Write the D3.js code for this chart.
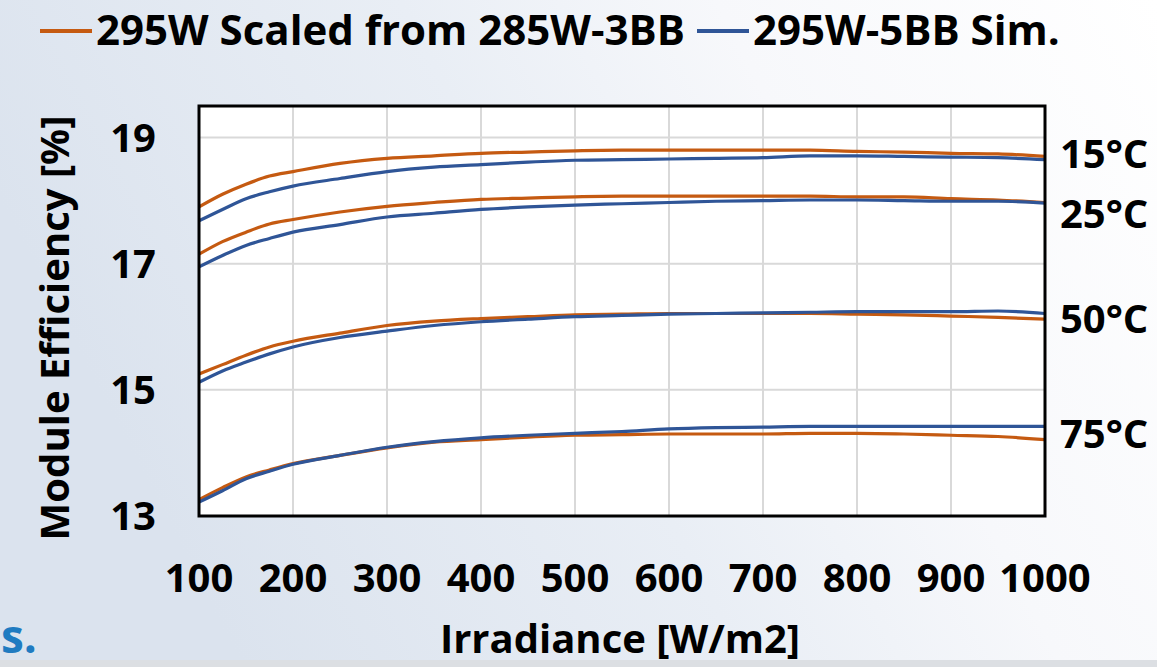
<!DOCTYPE html>
<html>
<head>
<meta charset="utf-8">
<script src="https://cdn.jsdelivr.net/npm/d3@7"></script>
<style>
    body { margin: 0; overflow: hidden; }
    text { font-family: "Open Sans", sans-serif; font-weight: bold; }
</style>
</head>
<body>
<div id="chart"></div>
<script>
// irradiance steps (W/m2)
let irradiance = [100, 125, 150, 175, 200, 250, 300, 350, 400, 450, 500, 550, 600, 650, 700, 750, 800, 850, 900, 950, 1000];

// scaled from 285W-3BB (orange)
let scaled15 = [17.90, 18.10, 18.26, 18.39, 18.46, 18.59, 18.67, 18.71, 18.75, 18.77, 18.79, 18.80, 18.80, 18.80, 18.80, 18.80, 18.78, 18.77, 18.75, 18.74, 18.70];
let scaled25 = [17.15, 17.35, 17.50, 17.63, 17.70, 17.82, 17.91, 17.97, 18.02, 18.04, 18.06, 18.07, 18.07, 18.07, 18.07, 18.07, 18.06, 18.06, 18.03, 18.01, 17.97];
let scaled50 = [15.25, 15.40, 15.55, 15.68, 15.77, 15.90, 16.02, 16.09, 16.13, 16.16, 16.19, 16.20, 16.21, 16.21, 16.21, 16.21, 16.20, 16.19, 16.17, 16.15, 16.12];
let scaled75 = [13.26, 13.45, 13.62, 13.73, 13.83, 13.96, 14.08, 14.17, 14.21, 14.25, 14.28, 14.29, 14.30, 14.30, 14.30, 14.31, 14.31, 14.30, 14.28, 14.26, 14.21];

// 295W-5BB simulation (blue)
let sim15 = [17.68, 17.86, 18.03, 18.14, 18.23, 18.35, 18.46, 18.53, 18.57, 18.61, 18.64, 18.65, 18.66, 18.67, 18.68, 18.71, 18.71, 18.70, 18.69, 18.68, 18.65];
let sim25 = [16.95, 17.13, 17.29, 17.40, 17.50, 17.62, 17.74, 17.80, 17.86, 17.90, 17.93, 17.95, 17.97, 17.99, 18.00, 18.01, 18.01, 18.00, 17.99, 17.99, 17.96];
let sim50 = [15.12, 15.30, 15.44, 15.57, 15.68, 15.83, 15.93, 16.02, 16.08, 16.12, 16.16, 16.18, 16.20, 16.21, 16.22, 16.23, 16.24, 16.24, 16.24, 16.25, 16.21];
let sim75 = [13.22, 13.40, 13.59, 13.71, 13.82, 13.96, 14.09, 14.18, 14.24, 14.28, 14.31, 14.34, 14.38, 14.40, 14.41, 14.42, 14.42, 14.42, 14.42, 14.42, 14.42];

let xTicks = [100, 200, 300, 400, 500, 600, 700, 800, 900, 1000];
let yTicks = [13, 15, 17, 19];
let tempLabels = ["15°C", "25°C", "50°C", "75°C"];
let tempLabelVals = [18.75, 17.80, 16.13, 14.31];
let seriesNames = ["295W Scaled from 285W-3BB", "295W-5BB Sim."];

const width = 1157;
const height = 667;
let marginLeft = 199;
let marginRight = 112;
let marginTop = 106;
let marginBottom = 151;

const orange = "#c55a11";
const blue = "#2f5597";

const x = d3.scaleLinear([100, 1000], [marginLeft, width - marginRight]);
const y = d3.scaleLinear([13, 19.5], [height - marginBottom, marginTop]);

let svg = d3.select("#chart")
    .append("svg")
    .attr("width", width)
    .attr("height", height)
    .attr("viewBox", [0, 0, width, height]);

// slide background, bluish on the left fading to white
let defs = svg.append("defs");
let grad = defs.append("linearGradient")
    .attr("id", "bg")
    .attr("x1", "0").attr("y1", "0.3")
    .attr("x2", "1").attr("y2", "0");
grad.append("stop").attr("offset", "0").attr("stop-color", "#dbe3ee");
grad.append("stop").attr("offset", "0.4").attr("stop-color", "#e9eef5");
grad.append("stop").attr("offset", "0.65").attr("stop-color", "#f7f8fb");
grad.append("stop").attr("offset", "1").attr("stop-color", "#ffffff");

svg.append("rect")
    .attr("width", width)
    .attr("height", height)
    .attr("fill", "url(#bg)");

svg.append("rect")
    .attr("y", 660)
    .attr("width", width)
    .attr("height", 7)
    .attr("fill", "#dcdfe3");

// plot area
svg.append("rect")
    .attr("x", x(100))
    .attr("y", y(19.5))
    .attr("width", x(1000) - x(100))
    .attr("height", y(13) - y(19.5))
    .attr("fill", "#ffffff");

// grid lines
svg.append("g")
    .selectAll("line")
    .data(xTicks.slice(1, -1))
    .join("line")
    .attr("x1", d => x(d)).attr("x2", d => x(d))
    .attr("y1", y(19.5)).attr("y2", y(13))
    .attr("stroke", "#d9d9d9")
    .attr("stroke-width", 2);

svg.append("g")
    .selectAll("line")
    .data(yTicks.slice(1))
    .join("line")
    .attr("x1", x(100)).attr("x2", x(1000))
    .attr("y1", d => y(d)).attr("y2", d => y(d))
    .attr("stroke", "#d9d9d9")
    .attr("stroke-width", 2);

// build line data
let line = d3.line()
    .x(d => x(d.irr))
    .y(d => y(d.val))
    .curve(d3.curveMonotoneX);

function toPoints(vals) {
    return irradiance.map((irr, i) => ({irr: irr, val: vals[i]}));
}

let scaledSeries = [scaled15, scaled25, scaled50, scaled75];
let simSeries = [sim15, sim25, sim50, sim75];

// draw pairs so blue sits on top of the matching orange line
for (let k = 0; k < 4; k++) {
    svg.append("path")
        .attr("fill", "none")
        .attr("stroke", orange)
        .attr("stroke-width", 3.2)
        .attr("d", line(toPoints(scaledSeries[k])));
    svg.append("path")
        .attr("fill", "none")
        .attr("stroke", blue)
        .attr("stroke-width", 3.2)
        .attr("d", line(toPoints(simSeries[k])));
}

// frame
svg.append("rect")
    .attr("x", x(100))
    .attr("y", y(19.5))
    .attr("width", x(1000) - x(100))
    .attr("height", y(13) - y(19.5))
    .attr("fill", "none")
    .attr("stroke", "#000000")
    .attr("stroke-width", 3);

// y tick labels
svg.append("g")
    .selectAll("text")
    .data(yTicks)
    .join("text")
    .attr("x", 156)
    .attr("y", d => y(d))
    .attr("dy", "0.36em")
    .attr("text-anchor", "end")
    .attr("font-size", 40)
    .attr("fill", "#000")
    .text(d => d);

// x tick labels
svg.append("g")
    .selectAll("text")
    .data(xTicks)
    .join("text")
    .attr("x", d => x(d))
    .attr("y", 592)
    .attr("text-anchor", "middle")
    .attr("font-size", 40)
    .attr("fill", "#000")
    .text(d => d);

// temperature labels at right
svg.append("g")
    .selectAll("text")
    .data(tempLabels)
    .join("text")
    .attr("x", 1060)
    .attr("y", (d, i) => y(tempLabelVals[i]))
    .attr("dy", "0.36em")
    .attr("font-size", 40)
    .attr("fill", "#000")
    .text(d => d);

// axis titles
svg.append("text")
    .attr("x", 620)
    .attr("y", 653)
    .attr("text-anchor", "middle")
    .attr("font-size", 40)
    .attr("fill", "#000")
    .text("Irradiance [W/m2]");

svg.append("text")
    .attr("transform", "translate(69,328) rotate(-90)")
    .attr("text-anchor", "middle")
    .attr("font-size", 40)
    .attr("fill", "#000")
    .text("Module Efficiency [%]");

// legend
let legendX = [40, 697];
let legendColors = [orange, blue];
let legend = svg.append("g");
seriesNames.forEach((name, i) => {
    legend.append("line")
        .attr("x1", legendX[i]).attr("x2", legendX[i] + 52)
        .attr("y1", 31).attr("y2", 31)
        .attr("stroke", legendColors[i])
        .attr("stroke-width", 4);
    legend.append("text")
        .attr("x", legendX[i] + 56)
        .attr("y", 45)
        .attr("font-size", 42)
        .attr("fill", "#000")
        .text(name);
});

// cut-off slide text at bottom left
svg.append("text")
    .attr("x", 1)
    .attr("y", 653)
    .attr("font-size", 46)
    .attr("fill", "#1f7bc1")
    .text("s.");
</script>
</body>
</html>
